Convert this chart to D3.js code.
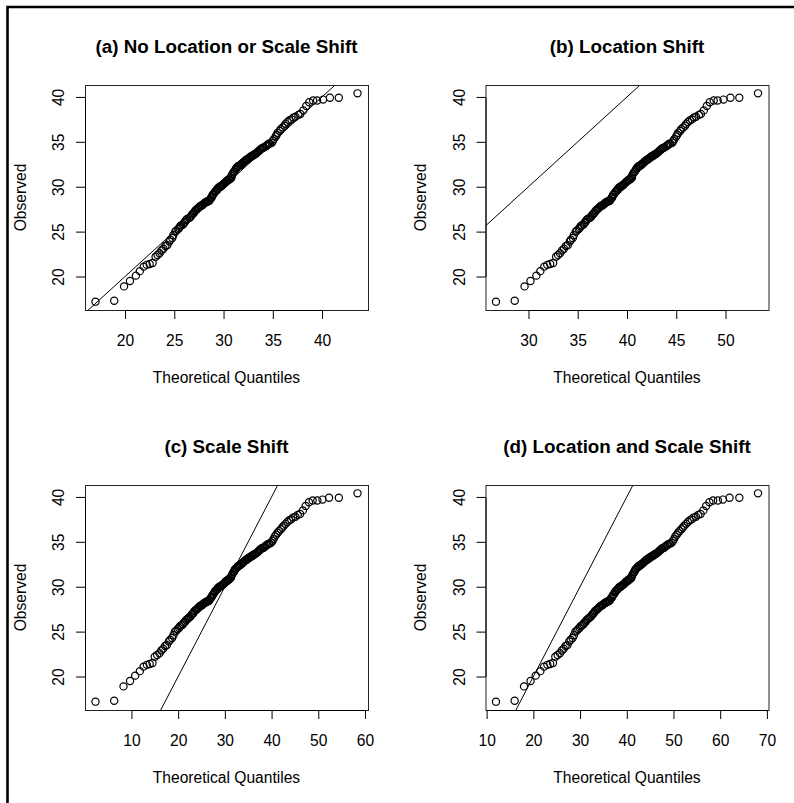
<!DOCTYPE html>
<html>
<head>
<meta charset="utf-8">
<script src="https://cdn.jsdelivr.net/npm/d3@7"></script>
<style>
  body { margin: 0; background: #fff; }
  svg { display: block; font-family: "Liberation Sans", Arial, Helvetica, sans-serif; }
</style>
</head>
<body>
<div id="chart"></div>
<script>
'use strict';

// observed values, sorted (same sample in all four panels)
const observed = [
  17.2, 17.3, 18.9, 19.5, 20.1, 20.6, 21.1, 21.3, 21.4, 21.5,
  22.2, 22.4, 22.6, 22.9, 23.1, 23.4, 23.5, 23.9, 24.1, 24.3,
  24.6, 25.0, 25.1, 25.3, 25.4, 25.6, 25.7, 25.8, 26.0, 26.1,
  26.3, 26.4, 26.5, 26.6, 26.7, 26.9, 27.0, 27.1, 27.3, 27.4,
  27.5, 27.6, 27.7, 27.8, 27.9, 27.9, 28.0, 28.1, 28.2, 28.2,
  28.3, 28.3, 28.4, 28.4, 28.5, 28.7, 28.8, 28.9, 29.1, 29.2,
  29.4, 29.5, 29.6, 29.7, 29.8, 29.9, 30.0, 30.0, 30.1, 30.2,
  30.2, 30.3, 30.4, 30.5, 30.6, 30.6, 30.7, 30.8, 30.8, 30.9,
  31.0, 31.2, 31.4, 31.6, 31.7, 31.9, 32.0, 32.1, 32.2, 32.3,
  32.3, 32.4, 32.5, 32.5, 32.6, 32.7, 32.8, 32.9, 33.0, 33.0,
  33.1, 33.2, 33.2, 33.3, 33.4, 33.4, 33.5, 33.6, 33.6, 33.7,
  33.8, 33.9, 34.0, 34.1, 34.2, 34.3, 34.3, 34.4, 34.5, 34.6,
  34.7, 34.8, 34.8, 34.9, 35.1, 35.3, 35.6, 35.8, 36.0, 36.2,
  36.4, 36.6, 36.8, 37.0, 37.2, 37.4, 37.5, 37.7, 37.8, 38.0,
  38.1, 38.5, 39.0, 39.4, 39.6, 39.6, 39.7, 39.9, 39.9, 40.4
];

// theoretical quantiles, one array per panel
const quantA = [
  17.0, 18.9, 19.9, 20.5, 21.1, 21.5, 21.9, 22.2, 22.5, 22.8,
  23.1, 23.3, 23.5, 23.7, 23.9, 24.1, 24.3, 24.5, 24.6, 24.8,
  24.9, 25.1, 25.2, 25.4, 25.5, 25.6, 25.7, 25.9, 26.0, 26.1,
  26.2, 26.3, 26.5, 26.6, 26.7, 26.8, 26.9, 27.0, 27.1, 27.2,
  27.3, 27.4, 27.5, 27.6, 27.7, 27.8, 27.9, 28.0, 28.1, 28.1,
  28.2, 28.3, 28.4, 28.5, 28.6, 28.7, 28.8, 28.8, 28.9, 29.0,
  29.1, 29.2, 29.3, 29.4, 29.4, 29.5, 29.6, 29.7, 29.8, 29.9,
  29.9, 30.0, 30.1, 30.2, 30.3, 30.3, 30.4, 30.5, 30.6, 30.7,
  30.8, 30.8, 30.9, 31.0, 31.1, 31.2, 31.3, 31.3, 31.4, 31.5,
  31.6, 31.7, 31.8, 31.8, 31.9, 32.0, 32.1, 32.2, 32.3, 32.4,
  32.5, 32.6, 32.6, 32.7, 32.8, 32.9, 33.0, 33.1, 33.2, 33.3,
  33.4, 33.5, 33.6, 33.7, 33.8, 33.9, 34.0, 34.1, 34.3, 34.4,
  34.5, 34.6, 34.7, 34.9, 35.0, 35.1, 35.3, 35.4, 35.5, 35.7,
  35.8, 36.0, 36.2, 36.3, 36.5, 36.7, 36.9, 37.1, 37.3, 37.6,
  37.8, 38.1, 38.4, 38.7, 39.1, 39.5, 40.1, 40.8, 41.7, 43.6
];
const quantB = [
  26.7, 28.6, 29.6, 30.2, 30.8, 31.2, 31.6, 31.9, 32.2, 32.5,
  32.8, 33.0, 33.2, 33.4, 33.6, 33.8, 34.0, 34.2, 34.3, 34.5,
  34.6, 34.8, 34.9, 35.1, 35.2, 35.3, 35.4, 35.6, 35.7, 35.8,
  35.9, 36.0, 36.2, 36.3, 36.4, 36.5, 36.6, 36.7, 36.8, 36.9,
  37.0, 37.1, 37.2, 37.3, 37.4, 37.5, 37.6, 37.7, 37.8, 37.8,
  37.9, 38.0, 38.1, 38.2, 38.3, 38.4, 38.5, 38.5, 38.6, 38.7,
  38.8, 38.9, 39.0, 39.1, 39.1, 39.2, 39.3, 39.4, 39.5, 39.6,
  39.6, 39.7, 39.8, 39.9, 40.0, 40.0, 40.1, 40.2, 40.3, 40.4,
  40.5, 40.5, 40.6, 40.7, 40.8, 40.9, 41.0, 41.0, 41.1, 41.2,
  41.3, 41.4, 41.5, 41.5, 41.6, 41.7, 41.8, 41.9, 42.0, 42.1,
  42.2, 42.3, 42.3, 42.4, 42.5, 42.6, 42.7, 42.8, 42.9, 43.0,
  43.1, 43.2, 43.3, 43.4, 43.5, 43.6, 43.7, 43.8, 44.0, 44.1,
  44.2, 44.3, 44.4, 44.6, 44.7, 44.8, 45.0, 45.1, 45.2, 45.4,
  45.5, 45.7, 45.9, 46.0, 46.2, 46.4, 46.6, 46.8, 47.0, 47.3,
  47.5, 47.8, 48.1, 48.4, 48.8, 49.2, 49.8, 50.5, 51.4, 53.3
];
const quantC = [
  2.3, 6.3, 8.3, 9.7, 10.8, 11.8, 12.6, 13.3, 13.9, 14.5,
  15.0, 15.5, 16.0, 16.4, 16.8, 17.2, 17.6, 18.0, 18.3, 18.7,
  19.0, 19.3, 19.6, 19.9, 20.2, 20.4, 20.7, 21.0, 21.2, 21.5,
  21.7, 22.0, 22.2, 22.4, 22.7, 22.9, 23.1, 23.3, 23.5, 23.8,
  24.0, 24.2, 24.4, 24.6, 24.8, 25.0, 25.2, 25.4, 25.6, 25.8,
  25.9, 26.1, 26.3, 26.5, 26.7, 26.9, 27.1, 27.2, 27.4, 27.6,
  27.8, 27.9, 28.1, 28.3, 28.5, 28.6, 28.8, 29.0, 29.2, 29.4,
  29.5, 29.7, 29.9, 30.1, 30.2, 30.4, 30.6, 30.7, 30.9, 31.1,
  31.3, 31.4, 31.6, 31.8, 32.0, 32.1, 32.3, 32.5, 32.7, 32.8,
  33.0, 33.2, 33.4, 33.5, 33.7, 33.9, 34.1, 34.3, 34.5, 34.7,
  34.9, 35.0, 35.2, 35.4, 35.6, 35.8, 36.0, 36.2, 36.4, 36.6,
  36.9, 37.1, 37.3, 37.5, 37.7, 37.9, 38.2, 38.4, 38.6, 38.9,
  39.1, 39.4, 39.6, 39.9, 40.2, 40.4, 40.7, 41.0, 41.3, 41.6,
  42.0, 42.3, 42.6, 43.0, 43.4, 43.8, 44.2, 44.6, 45.1, 45.6,
  46.1, 46.7, 47.3, 48.0, 48.8, 49.8, 50.9, 52.3, 54.4, 58.4
];
const quantD = [
  12.0, 16.0, 18.0, 19.4, 20.5, 21.5, 22.3, 23.0, 23.6, 24.2,
  24.7, 25.2, 25.7, 26.1, 26.5, 26.9, 27.3, 27.7, 28.0, 28.4,
  28.7, 29.0, 29.3, 29.6, 29.9, 30.1, 30.4, 30.7, 30.9, 31.2,
  31.4, 31.7, 31.9, 32.1, 32.4, 32.6, 32.8, 33.0, 33.2, 33.5,
  33.7, 33.9, 34.1, 34.3, 34.5, 34.7, 34.9, 35.1, 35.3, 35.5,
  35.6, 35.8, 36.0, 36.2, 36.4, 36.6, 36.8, 36.9, 37.1, 37.3,
  37.5, 37.6, 37.8, 38.0, 38.2, 38.3, 38.5, 38.7, 38.9, 39.1,
  39.2, 39.4, 39.6, 39.8, 39.9, 40.1, 40.3, 40.4, 40.6, 40.8,
  41.0, 41.1, 41.3, 41.5, 41.7, 41.8, 42.0, 42.2, 42.4, 42.5,
  42.7, 42.9, 43.1, 43.2, 43.4, 43.6, 43.8, 44.0, 44.2, 44.4,
  44.6, 44.7, 44.9, 45.1, 45.3, 45.5, 45.7, 45.9, 46.1, 46.3,
  46.6, 46.8, 47.0, 47.2, 47.4, 47.6, 47.9, 48.1, 48.3, 48.6,
  48.8, 49.1, 49.3, 49.6, 49.9, 50.1, 50.4, 50.7, 51.0, 51.3,
  51.7, 52.0, 52.3, 52.7, 53.1, 53.5, 53.9, 54.3, 54.8, 55.3,
  55.8, 56.4, 57.0, 57.7, 58.5, 59.5, 60.6, 62.0, 64.1, 68.1
];

const panelTitles = [
  '(a) No Location or Scale Shift',
  '(b) Location Shift',
  '(c) Scale Shift',
  '(d) Location and Scale Shift'
];
const xTicks = [
  [20, 25, 30, 35, 40],
  [30, 35, 40, 45, 50],
  [10, 20, 30, 40, 50, 60],
  [10, 20, 30, 40, 50, 60, 70]
];
const yTicks = [20, 25, 30, 35, 40];
const xLabel = 'Theoretical Quantiles';
const yLabel = 'Observed';

const quantiles = [quantA, quantB, quantC, quantD];

// layout
const width = 794, height = 803;
const boxW = 283, boxH = 225;
const boxPos = [[85, 85], [485.5, 85], [85, 485], [485.5, 485]];
const fontSize = 15.6;
const fontFamily = '"Liberation Sans", Arial, Helvetica, sans-serif';

// R pads the data range by 4% on each side
function padRange(ext) {
  let d = (ext[1] - ext[0]) * 0.04;
  return [ext[0] - d, ext[1] + d];
}

let svg = d3.select('#chart')
  .append('svg')
  .attr('width', width)
  .attr('height', height);

svg.append('rect')
  .attr('width', width)
  .attr('height', height)
  .attr('fill', '#fff');

// outer frame (only top and left edges visible)
svg.append('path')
  .attr('d', 'M7.5,' + height + ' V7 H' + width)
  .attr('fill', 'none')
  .attr('stroke', '#000')
  .attr('stroke-width', 2.6);

const yDomain = padRange(d3.extent(observed));

quantiles.forEach(function(q, i) {
  let g = svg.append('g')
    .attr('transform', 'translate(' + boxPos[i][0] + ',' + boxPos[i][1] + ')');

  let x = d3.scaleLinear().domain(padRange(d3.extent(q))).range([0, boxW]);
  let y = d3.scaleLinear().domain(yDomain).range([boxH, 0]);

  g.append('clipPath')
    .attr('id', 'clip' + i)
    .append('rect')
    .attr('width', boxW)
    .attr('height', boxH);

  // reference line y = x
  let line = d3.line().x(d => x(d)).y(d => y(d));
  g.append('path')
    .datum(x.domain())
    .attr('clip-path', 'url(#clip' + i + ')')
    .attr('d', line)
    .attr('fill', 'none')
    .attr('stroke', '#000')
    .attr('stroke-width', 1);

  // points
  g.selectAll('circle.pt')
    .data(observed)
    .enter().append('circle')
    .attr('class', 'pt')
    .attr('cx', (d, k) => x(q[k]))
    .attr('cy', d => y(d))
    .attr('r', 3.6)
    .attr('fill', 'none')
    .attr('stroke', '#000')
    .attr('stroke-width', 1.2);

  // plot box
  g.append('rect')
    .attr('x', 0.5)
    .attr('y', 0.5)
    .attr('width', boxW)
    .attr('height', boxH)
    .attr('fill', 'none')
    .attr('stroke', '#222')
    .attr('stroke-width', 1);

  // x axis
  let xa = g.append('g')
    .attr('transform', 'translate(0,' + boxH + ')')
    .call(d3.axisBottom(x).tickValues(xTicks[i]).tickSize(9).tickSizeOuter(0).tickPadding(15.5));
  xa.select('.domain').remove();
  xa.attr('font-size', fontSize).attr('font-family', fontFamily);
  xa.append('line')
    .attr('x1', x(xTicks[i][0]) + 0.5)
    .attr('x2', x(xTicks[i][xTicks[i].length - 1]) + 0.5)
    .attr('y1', 0.5)
    .attr('y2', 0.5)
    .attr('stroke', '#000');
  xa.selectAll('text').attr('fill', '#000');

  // y axis, labels rotated like R
  let ya = g.append('g')
    .call(d3.axisLeft(y).tickValues(yTicks).tickSize(9).tickSizeOuter(0));
  ya.select('.domain').remove();
  ya.attr('font-size', fontSize).attr('font-family', fontFamily);
  ya.append('line')
    .attr('x1', 0.5)
    .attr('x2', 0.5)
    .attr('y1', y(yTicks[0]) + 0.5)
    .attr('y2', y(yTicks[yTicks.length - 1]) + 0.5)
    .attr('stroke', '#000');
  ya.selectAll('.tick text')
    .attr('transform', 'rotate(-90)')
    .attr('x', 0)
    .attr('y', -21)
    .attr('dy', null)
    .attr('text-anchor', 'middle')
    .attr('fill', '#000');

  // titles and axis labels
  g.append('text')
    .attr('x', boxW / 2)
    .attr('y', -31.6)
    .attr('text-anchor', 'middle')
    .attr('font-size', 18.8)
    .attr('font-weight', 'bold')
    .text(panelTitles[i]);

  g.append('text')
    .attr('x', boxW / 2)
    .attr('y', boxH + 73.3)
    .attr('text-anchor', 'middle')
    .attr('font-size', fontSize)
    .text(xLabel);

  g.append('text')
    .attr('transform', 'translate(-59.5,' + (boxH / 2) + ') rotate(-90)')
    .attr('text-anchor', 'middle')
    .attr('font-size', fontSize)
    .text(yLabel);
});
</script>
</body>
</html>
